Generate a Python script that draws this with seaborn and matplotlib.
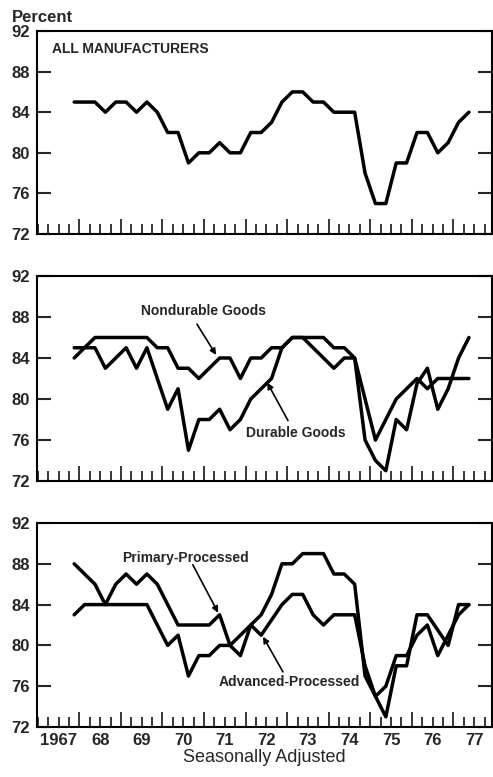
import numpy as np
import pandas as pd
import matplotlib.pyplot as plt
import seaborn as sns
from matplotlib.ticker import FixedLocator, MultipleLocator
from matplotlib.transforms import blended_transform_factory

# quarterly capacity utilization, 1967Q4 - 1977Q2
quarters = pd.period_range("1967Q4", "1977Q2", freq="Q")

all_mfg = [85, 85, 85, 84, 85, 85, 84, 85, 84, 82, 82, 79, 80, 80, 81, 80, 80, 82, 82, 83,
           85, 86, 86, 85, 85, 84, 84, 84, 78, 75, 75, 79, 79, 82, 82, 80, 81, 83, 84]
nondurable = [84, 85, 86, 86, 86, 86, 86, 86, 85, 85, 83, 83, 82, 83, 84, 84, 82, 84, 84, 85,
              85, 86, 86, 86, 86, 85, 85, 84, 80, 76, 78, 80, 81, 82, 81, 82, 82, 82, 82]
durable = [85, 85, 85, 83, 84, 85, 83, 85, 82, 79, 81, 75, 78, 78, 79, 77, 78, 80, 81, 82,
           85, 86, 86, 85, 84, 83, 84, 84, 76, 74, 73, 78, 77, 81.5, 83, 79, 81, 84, 86]
primary = [88, 87, 86, 84, 86, 87, 86, 87, 86, 84, 82, 82, 82, 82, 83, 80, 79, 82, 83, 85,
           88, 88, 89, 89, 89, 87, 87, 86, 77, 75, 73, 78, 78, 83, 83, 81.5, 80, 84, 84]
advanced = [83, 84, 84, 84, 84, 84, 84, 84, 82, 80, 81, 77, 79, 79, 80, 80, 81, 82, 81, 82.5,
            84, 85, 85, 83, 82, 83, 83, 83, 78, 75, 76, 79, 79, 81, 82, 79, 81, 83, 84]

year_labels = ["1967", "68", "69", "70", "71", "72", "73", "74", "75", "76", "77"]
y_ticks = [72, 76, 80, 84, 88, 92]

sns.set_style("white")
plt.rcParams['font.family'] = ['Liberation Sans', 'DejaVu Sans']

df = pd.DataFrame({
    "x": quarters.year + (quarters.quarter - 0.5) / 4,
    "all": all_mfg,
    "nondurable": nondurable,
    "durable": durable,
    "primary": primary,
    "advanced": advanced,
})

fig = plt.figure(figsize=(4.93, 7.77), dpi=100)
W, H = 493, 777
left, right = 37, 492
panels = [(31, 234), (276, 481), (523, 727)]
axes = []
for top, bot in panels:
    ax = fig.add_axes([left / W, 1 - bot / H, (right - left) / W, (bot - top) / H])
    axes.append(ax)

first_year = int(year_labels[0])
for ax in axes:
    ax.set_xlim(first_year - 0.02, first_year + 10.93)
    ax.set_ylim(y_ticks[0], y_ticks[-1])
    ax.set_yticks(y_ticks)
    ax.xaxis.set_major_locator(FixedLocator(np.arange(first_year + 1, first_year + 11)))
    ax.xaxis.set_minor_locator(MultipleLocator(0.25))
    ax.tick_params(axis='x', which='major', direction='in', length=10.5, width=1.3,
                   labelbottom=False, bottom=True)
    ax.tick_params(axis='x', which='minor', direction='in', length=7.5, width=1.3, bottom=True)
    ax.tick_params(axis='y', direction='in', length=10, width=1.5, left=True, right=True,
                   labelsize=12, pad=5)
    for lab in ax.get_yticklabels():
        lab.set_fontweight('bold')
    for s in ax.spines.values():
        s.set_linewidth(1.5)
        s.set_color('black')

lw = 2.5
sns.lineplot(data=df, x="x", y="all", ax=axes[0], color="black", lw=lw)
sns.lineplot(data=df, x="x", y="nondurable", ax=axes[1], color="black", lw=lw)
sns.lineplot(data=df, x="x", y="durable", ax=axes[1], color="black", lw=lw)
sns.lineplot(data=df, x="x", y="primary", ax=axes[2], color="black", lw=lw)
sns.lineplot(data=df, x="x", y="advanced", ax=axes[2], color="black", lw=lw)
for ax in axes:
    ax.set_xlabel("")
    ax.set_ylabel("")

axes[0].text(0.033, 0.91, "ALL MANUFACTURERS", transform=axes[0].transAxes,
             fontsize=10, fontweight='bold', ha='left', va='center')

arrow = dict(arrowstyle='-|>', color='black', lw=1.2, mutation_scale=9, shrinkA=0, shrinkB=0)
label_kw = dict(ha='center', va='center', fontsize=10, fontweight='bold')

axes[1].text(1970.99, 88.6, "Nondurable Goods", **label_kw)
axes[1].annotate("", xy=(1971.29, 84.3), xytext=(1970.83, 87.3), arrowprops=arrow)
axes[1].text(1973.22, 76.65, "Durable Goods", **label_kw)
axes[1].annotate("", xy=(1972.52, 81.6), xytext=(1973.02, 77.9), arrowprops=arrow)
axes[2].text(1970.55, 88.6, "Primary-Processed", **label_kw)
axes[2].annotate("", xy=(1971.34, 83.2), xytext=(1970.73, 87.9), arrowprops=arrow)
axes[2].text(1973.06, 76.4, "Advanced-Processed", **label_kw)
axes[2].annotate("", xy=(1972.42, 80.85), xytext=(1972.9, 77.4), arrowprops=arrow)

# year labels centred between the year ticks
tr = blended_transform_factory(axes[2].transData, axes[2].transAxes)
for k, lab in enumerate(year_labels):
    axes[2].text(first_year + k + 0.5, -0.03, lab, transform=tr, ha='center', va='top',
                 fontsize=12, fontweight='bold')

fig.text(12 / W, 1 - 18 / H, "Percent", ha='left', va='center', fontsize=12, fontweight='bold')
fig.text((left + right) / 2 / W, 1 - 758 / H, "Seasonally Adjusted", ha='center', va='center',
         fontsize=13)

fig.savefig("out.png", dpi=100)
